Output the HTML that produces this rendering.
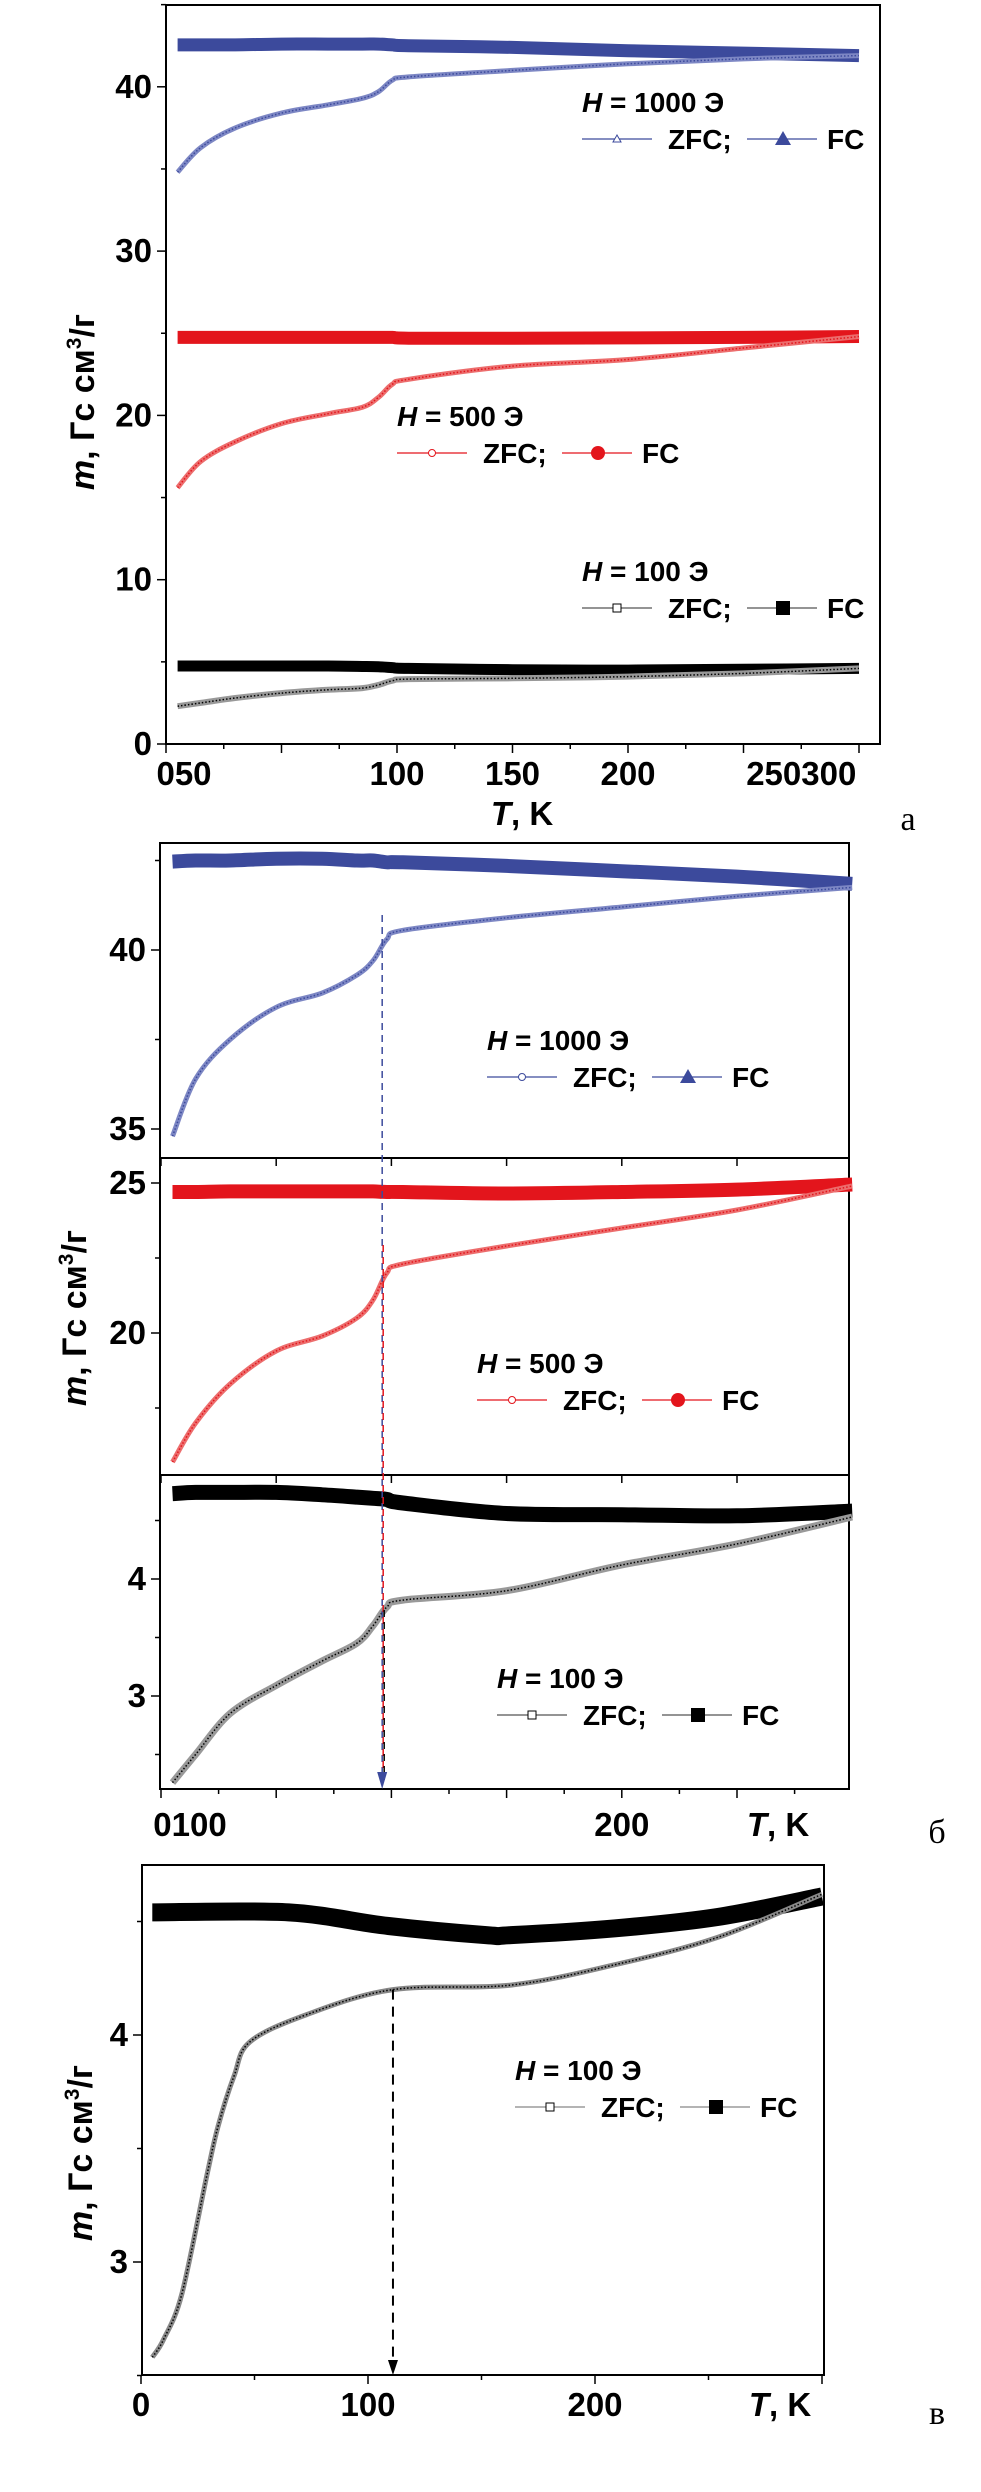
<!DOCTYPE html>
<html><head><meta charset="utf-8"><style>
html,body{margin:0;padding:0;background:#fff;}
svg{display:block;font-family:"Liberation Sans",sans-serif;}
.tk{font-family:"Liberation Sans Narrow","Liberation Sans",sans-serif;font-size:33px;font-weight:bold;}
.lg{font-size:28px;font-weight:bold;}
.yl{font-size:34px;font-weight:bold;}
.cap{font-family:"Liberation Serif",serif;font-size:34px;}
</style></head><body>
<svg id="fig" width="981" height="2492" viewBox="0 0 981 2492" xmlns="http://www.w3.org/2000/svg"></svg>
<script>
// ---------- data ----------
const tA = [5,15,30,50,70,85,92,98,105,150,200,250,300];
const aZfc1000 = [34.8,36.3,37.5,38.4,38.9,39.3,39.7,40.4,40.6,41.0,41.4,41.7,41.9];
const aFc1000  = [42.55,42.55,42.55,42.6,42.6,42.6,42.6,42.55,42.5,42.4,42.2,42.05,41.9];
const aZfc500  = [15.6,17.2,18.4,19.5,20.1,20.5,21.1,21.9,22.2,23.0,23.4,24.1,24.8];
const aFc500   = [24.75,24.75,24.75,24.75,24.75,24.75,24.75,24.75,24.7,24.7,24.72,24.75,24.8];
const aZfc100  = [2.3,2.5,2.8,3.1,3.3,3.4,3.6,3.85,3.95,4.0,4.1,4.3,4.6];
const aFc100   = [4.75,4.75,4.75,4.75,4.75,4.72,4.7,4.65,4.6,4.52,4.5,4.55,4.6];

const tB = [5,15,30,50,70,85,92,98,105,150,200,250,300];
const bZfc1000 = [34.8,36.4,37.5,38.4,38.8,39.3,39.7,40.3,40.55,40.9,41.2,41.5,41.75];
const bFc1000  = [42.47,42.5,42.5,42.55,42.55,42.5,42.5,42.45,42.45,42.35,42.2,42.05,41.85];
const bZfc500  = [15.7,17.0,18.3,19.4,19.9,20.5,21.1,22.0,22.3,22.9,23.5,24.1,24.9];
const bFc500   = [24.7,24.7,24.72,24.72,24.72,24.72,24.72,24.7,24.7,24.65,24.7,24.78,24.95];
const bZfc100  = [2.26,2.5,2.85,3.09,3.3,3.45,3.6,3.76,3.82,3.9,4.12,4.3,4.53];
const bFc100   = [4.73,4.74,4.74,4.74,4.72,4.7,4.69,4.68,4.65,4.56,4.55,4.54,4.58];

const tCz = [5,10,18,29,34,41,48,73,111,163,209,254,300];
const cZfc100 = [2.58,2.66,2.86,3.38,3.6,3.82,3.97,4.09,4.2,4.22,4.31,4.43,4.62];
const tCf = [5,65,109,152,163,209,254,300];
const cFc100 = [4.54,4.54,4.48,4.44,4.44,4.47,4.52,4.61];

const xTicksA = ["050","100","150","200","250300"];
const xTickTA = [0,100,150,200,275];
const yTicksA = [0,10,20,30,40];
const xTicksB = ["0100","200"];
const xTickTB = [25,200];
const xTicksC = [0,100,200];
const yTicksC = [3,4];
const tcB = 96, tcC = 111;

// ---------- helpers ----------
const NS="http://www.w3.org/2000/svg";
const svg=document.getElementById('fig');
function mk(tag,attrs,parent){const e=document.createElementNS(NS,tag);for(const k in attrs)e.setAttribute(k,attrs[k]);(parent||svg).appendChild(e);return e;}
function smooth(pts){
  let d="M"+pts[0][0].toFixed(1)+","+pts[0][1].toFixed(1);
  for(let i=0;i<pts.length-1;i++){
    const p0=pts[Math.max(0,i-1)],p1=pts[i],p2=pts[i+1],p3=pts[Math.min(pts.length-1,i+2)];
    const c1=[p1[0]+(p2[0]-p0[0])/6,p1[1]+(p2[1]-p0[1])/6];
    const c2=[p2[0]-(p3[0]-p1[0])/6,p2[1]-(p3[1]-p1[1])/6];
    d+=" C"+c1[0].toFixed(1)+","+c1[1].toFixed(1)+" "+c2[0].toFixed(1)+","+c2[1].toFixed(1)+" "+p2[0].toFixed(1)+","+p2[1].toFixed(1);
  }
  return d;
}
function series(ts,vs,xf,yf,color,width,name,light){
  const pts=ts.map((t,i)=>[xf(t),yf(vs[i])]);
  const p=mk('path',{d:smooth(pts),fill:'none',stroke:color,'stroke-width':width,'stroke-linecap':'butt'});
  
  
  if(light){
    const q=mk('path',{d:smooth(pts),fill:'none',stroke:light,'stroke-width':1.5,'stroke-dasharray':'1.5 2'});
    
    
  }
}
function text(x,y,s,cls,anchor,name,extra){
  const t=mk('text',Object.assign({x:x,y:y,class:cls,'text-anchor':anchor||'start'},extra||{}));
  t.textContent=s;
  
  
  return t;
}
function line(x1,y1,x2,y2,c,w,extra){return mk('line',Object.assign({x1,y1,x2,y2,stroke:c,'stroke-width':w},extra||{}));}
function legend(x,y,title,color,zfcMarker,fcMarker,name){
  const g=mk('g',{});
  
  
  const t=mk('text',{x:x,y:y-27,class:'lg'},g);
  const it=mk('tspan',{'font-style':'italic'},t);it.textContent='H';
  const rest=mk('tspan',{},t);rest.textContent=' = '+title+' Э';
  g.appendChild(line(x,y,x+70,y,color,1.2));
  const mx=x+35;
  if(zfcMarker==='tri') g.appendChild(mk('polygon',{points:`${mx-4},${y+3} ${mx+4},${y+3} ${mx},${y-4}`,fill:'#fff',stroke:color,'stroke-width':1}));
  else if(zfcMarker==='circ') g.appendChild(mk('circle',{cx:mx,cy:y,r:3.5,fill:'#fff',stroke:color,'stroke-width':1}));
  else g.appendChild(mk('rect',{x:mx-4,y:y-4,width:8,height:8,fill:'#fff',stroke:'#000','stroke-width':1}));
  const z=mk('text',{x:x+86,y:y+10,class:'lg'},g);z.textContent='ZFC;';
  const x2=x+165;
  g.appendChild(line(x2,y,x2+70,y,color,1.2));
  const m2=x2+36;
  if(fcMarker==='tri') g.appendChild(mk('polygon',{points:`${m2-8},${y+6} ${m2+8},${y+6} ${m2},${y-8}`,fill:color}));
  else if(fcMarker==='circ') g.appendChild(mk('circle',{cx:m2,cy:y,r:7,fill:color}));
  else g.appendChild(mk('rect',{x:m2-7,y:y-7,width:14,height:14,fill:'#000'}));
  const f=mk('text',{x:x2+80,y:y+10,class:'lg'},g);f.textContent='FC';
}
function ylabel(cx,cy,name){
  const t=mk('text',{x:0,y:0,class:'yl','text-anchor':'middle',transform:`translate(${cx},${cy}) rotate(-90)`});
  
  
  const a=mk('tspan',{'font-style':'italic'},t);a.textContent='m';
  const b=mk('tspan',{},t);b.textContent=', Гс см';
  const c=mk('tspan',{'font-size':'21',dy:'-13'},t);c.textContent='3';
  const d=mk('tspan',{dy:'13'},t);d.textContent='/г';
}
const BLUE='#3c4a9c',BLUEL='#7d87c4',RED='#e3151c',REDL='#ec6d6d';

// ---------- panel A ----------
(function(){
  const xA=t=>166+t*2.31, yA=v=>744-v*16.43;
  const f=mk('rect',{x:166,y:5,width:714,height:739,fill:'none',stroke:'#000','stroke-width':2});
  
  for(let v=0;v<=45;v+=5){const L=v%10===0?9:5;line(166-L,yA(v),166,yA(v),'#000',1.5);}
  for(let t=0;t<=300;t+=25){const L=t%50===0?9:5;line(xA(t),744,xA(t),744+L,'#000',1.5);}
  yTicksA.forEach(v=>text(152,yA(v)+11,String(v),'tk','end','y-tick-a-'+v));
  xTicksA.forEach((s,i)=>text(s==="050"?184:xA(xTickTA[i]),785,s,'tk','middle','x-tick-a-'+s));
  const tt=text(522,825,'','tk','middle','x-axis-title-a');
  const ti=mk('tspan',{'font-style':'italic'},tt);ti.textContent='T';
  const tr=mk('tspan',{},tt);tr.textContent=', K';
  ylabel(94,402,'y-axis-title-a');
  text(908,830,'а','cap','middle','panel-label-a');
  series(tA,aFc1000,xA,yA,BLUE,13,'a-fc-1000');
  series(tA,aZfc1000,xA,yA,BLUEL,5,'a-zfc-1000',BLUE);
  series(tA,aFc500,xA,yA,RED,13,'a-fc-500');
  series(tA,aZfc500,xA,yA,REDL,5,'a-zfc-500',RED);
  series(tA,aFc100,xA,yA,'#000',11,'a-fc-100');
  series(tA,aZfc100,xA,yA,'#999',6,'a-zfc-100','#000');
  legend(582,139,'1000',BLUE,'tri','tri','legend-a-1000');
  legend(397,453,'500',RED,'circ','circ','legend-a-500');
  legend(582,608,'100','#555','sq','sq','legend-a-100');
})();

// ---------- panel B ----------
(function(){
  const xB=t=>161+t*2.304;
  const y1=v=>950-(v-40)*35.8, y2=v=>1333-(v-20)*30, y3=v=>1579-(v-4)*117;
  const f=mk('rect',{x:160,y:843,width:689,height:946,fill:'none',stroke:'#000','stroke-width':2});
  
  line(160,1158,849,1158,'#000',2);line(160,1475,849,1475,'#000',2);
  [[35,42.5,2.5,y1,[35,40]],[17.5,25,2.5,y2,[20,25]],[2.5,4.5,0.5,y3,[3,4]]].forEach(([a,b,s,yf,maj])=>{
    for(let v=a;v<=b+1e-6;v+=s){const L=maj.includes(v)?9:5;line(160-L,yf(v),160,yf(v),'#000',1.5);}
    maj.forEach(v=>text(146,yf(v)+11,String(v),'tk','end','y-tick-b-'+v));
  });
  for(let t=0;t<=275;t+=50){line(xB(t),1789,xB(t),1798,'#000',1.5);line(xB(t),1158,xB(t),1166,'#000',1.5);line(xB(t),1475,xB(t),1483,'#000',1.5);}
  for(let t=25;t<=275;t+=50){line(xB(t),1789,xB(t),1794,'#000',1.5);}
  xTicksB.forEach((s,i)=>text(s==="0100"?190:xB(xTickTB[i]),1836,s,'tk','middle','x-tick-b-'+s));
  const tt=text(778,1836,'','tk','middle','x-axis-title-b');
  const ti=mk('tspan',{'font-style':'italic'},tt);ti.textContent='T';
  const tr=mk('tspan',{},tt);tr.textContent=', K';
  ylabel(86,1318,'y-axis-title-b');
  text(937,1843,'б','cap','middle','panel-label-b');
  series(tB,bFc1000,xB,y1,BLUE,14,'b-fc-1000');
  series(tB,bZfc1000,xB,y1,BLUEL,5,'b-zfc-1000',BLUE);
  series(tB,bFc500,xB,y2,RED,14,'b-fc-500');
  series(tB,bZfc500,xB,y2,REDL,5,'b-zfc-500',RED);
  series(tB,bFc100,xB,y3,'#000',15,'b-fc-100');
  series(tB,bZfc100,xB,y3,'#999',7,'b-zfc-100','#000');
  const xc=xB(tcB);
  const d1=line(xc,915,xc,1780,BLUE,1.5,{'stroke-dasharray':'7 5'});
  
  line(xc+1,1245,xc+1,1780,RED,1.5,{'stroke-dasharray':'7 5'});
  line(xc+2,1610,xc+2,1780,'#000',1.5,{'stroke-dasharray':'7 5'});
  const ar=mk('polygon',{points:`${xc-5},1772 ${xc+5},1772 ${xc},1789`,fill:BLUE});
  
  legend(487,1077,'1000',BLUE,'circ','tri','legend-b-1000');
  legend(477,1400,'500',RED,'circ','circ','legend-b-500');
  legend(497,1715,'100','#555','sq','sq','legend-b-100');
})();

// ---------- panel C ----------
(function(){
  const xC=t=>141+t*2.27, yC=v=>2035-(v-4)*227;
  const f=mk('rect',{x:142,y:1865,width:682,height:510,fill:'none',stroke:'#000','stroke-width':2});
  
  for(let v=2.5;v<=4.5+1e-6;v+=0.5){const L=(v===3||v===4)?9:5;line(142-L,yC(v),142,yC(v),'#000',1.5);}
  for(let t=0;t<=300;t+=50){const L=t%100===0?9:5;line(xC(t),2375,xC(t),2375+L,'#000',1.5);}
  yTicksC.forEach(v=>text(128,yC(v)+11,String(v),'tk','end','y-tick-c-'+v));
  xTicksC.forEach(v=>text(xC(v),2416,String(v),'tk','middle','x-tick-c-'+v));
  const tt=text(780,2416,'','tk','middle','x-axis-title-c');
  const ti=mk('tspan',{'font-style':'italic'},tt);ti.textContent='T';
  const tr=mk('tspan',{},tt);tr.textContent=', K';
  ylabel(92,2153,'y-axis-title-c');
  text(937,2424,'в','cap','middle','panel-label-c');
  series(tCf,cFc100,xC,yC,'#000',18,'c-fc-100');
  series(tCz,cZfc100,xC,yC,'#888',5,'c-zfc-100','#000');
  const xc=xC(tcC);
  const d=line(xc,yC(4.2),xc,2362,'#000',2,{'stroke-dasharray':'10 7'});
  
  const ar=mk('polygon',{points:`${xc-5},2360 ${xc+5},2360 ${xc},2375`,fill:'#000'});
  
  legend(515,2107,'100','#888','sq','sq','legend-c-100');
})();
</script>
</body></html>
